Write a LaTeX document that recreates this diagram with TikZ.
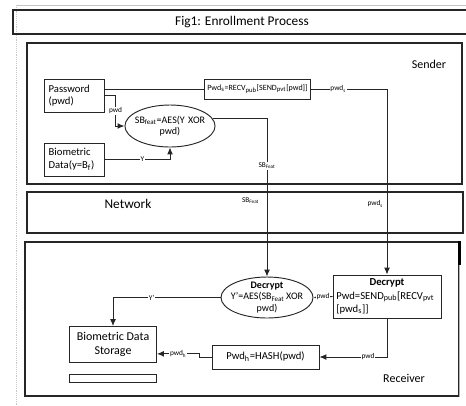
\documentclass[tikz,border=0pt]{standalone}
\usepackage{fontspec}
\setmainfont{Carlito}
\usetikzlibrary{
  arrows.meta,
  positioning,
  shapes.geometric
}
\tikzset{
  >={Latex[length=5.2pt,width=4.4pt]},
  % styles
  frame/.style={
    draw=black!85,
    line width=0.8pt,
    inner sep=0pt,
  },
  heading/.style={
    font=\fontsize{9}{11}\selectfont,
  },
  box/.style={
    draw=black!85,
    line width=0.7pt,
    inner sep=2pt,
  },
  oval/.style={
    ellipse,
    draw=black!85,
    line width=0.7pt,
    inner sep=0pt,
    align=center,
  },
  link/.style={
    draw=black!85,
    line width=0.7pt,
  },
  tag/.style={
    fill=white,
    inner sep=0.6pt,
    font=\fontsize{5.5}{6}\selectfont,
  },
  bare tag/.style={
    inner sep=0.6pt,
    font=\fontsize{5.5}{6}\selectfont,
  }
}

\begin{document}
\begin{tikzpicture}[x=0.75pt,y=-0.75pt]
  \useasboundingbox (0,0) rectangle (466,405);

  % page edge
  \draw [gray!45,densely dotted] (16,405) -- (16,5);
  \draw [gray!45] (16,5) -- (466,5);

  % frames
  \node [frame,minimum width=343.5pt,minimum height=18pt,
         font=\fontsize{10}{12}\selectfont] (title) at (242,22)
    {Fig1: Enrollment Process};
  \node [frame,minimum width=326.25pt,minimum height=105.75pt] (sender)   at (244.5,113.5) {};
  \node [frame,minimum width=327pt,minimum height=30.75pt]     (network)  at (245,212.5)   {};
  \node [frame,minimum width=325.5pt,minimum height=115.5pt]   (receiver) at (242,319)     {};
  \draw [gray!60,line width=1pt] (receiver.north east) -- (receiver.south east);
  \draw [line width=1.6pt] (receiver.north east) -- ++(0,24);

  \node [heading] (sendername)   at (429,64)  {Sender};
  \node [heading,font=\fontsize{10}{12}\selectfont] (networkname) at (128,204) {Network};
  \node [heading] (receivername) at (404,378) {Receiver};

  % sender side
  \node [box,align=left,text width=38pt,inner xsep=3.5pt,minimum height=24.75pt,
         font=\fontsize{8}{9.5}\selectfont] (pwd) at (74,95.5)
    {Password\\(pwd)};
  \node [box,align=left,text width=38pt,inner xsep=3.5pt,minimum height=24.75pt,
         font=\fontsize{8}{9.5}\selectfont] (bio) at (74,159.5)
    {Biometric\\Data(y=B\textsubscript{f})};
  \node [oval,text width=57pt,inner xsep=-4.6pt,minimum height=31.5pt,
         font=\fontsize{7.5}{8.6}\selectfont] (encS) at (170,126)
    {SB\textsubscript{feat}=AES(Y XOR\\pwd)};
  \node [box,minimum width=78.75pt,minimum height=15pt,
         font=\fontsize{6}{7}\selectfont] (pwdS) at (257.5,89)
    {Pwd\textsubscript{s}=RECV\textsubscript{pub}[SEND\textsubscript{pvt}[pwd]]};

  % receiver side
  \node [oval,text width=62pt,inner xsep=-6.6pt,inner ysep=-1.5pt,minimum height=30.75pt,
         font=\fontsize{7.5}{8.5}\selectfont] (decE) at (267,297.5)
    {\textbf{Decrypt}\\Y'=AES(SB\textsubscript{Feat}\,XOR\\pwd)};
  \node [box,align=left,text width=76pt,inner xsep=2.5pt,minimum height=32.25pt,
         font=\fontsize{8}{10}\selectfont] (decB) at (387,296.5)
    {\makebox[\linewidth]{\textbf{Decrypt}}\\
     Pwd=SEND\textsubscript{pub}[RECV\textsubscript{pvt}\\
     {[}pwd\textsubscript{s}{]]}};
  \node [box,minimum width=80.25pt,minimum height=18pt,
         font=\fontsize{8}{10}\selectfont] (hash) at (265.5,357)
    {Pwd\textsubscript{h}=HASH(pwd)};
  \node [box,align=center,minimum width=65.25pt,minimum height=27pt,
         font=\fontsize{9}{11}\selectfont] (store) at (113,344.5)
    {Biometric Data\\Storage};
  \node [box,inner sep=0pt,minimum width=65.25pt,minimum height=6pt,
         below=8pt of store] (spare) {};

  % connectors
  \draw [link] (pwd.east |- pwdS.west) -- (pwdS.west);
  \draw [link,->] (pwd.east) -- ++(11,0)
    |- node [tag,pos=0.25] {pwd} (encS.west);
  \draw [link,->] (bio.east)
    -| node [tag,pos=0.29] {Y} (encS.south);
  \draw [link,->] (encS.10)
    -| node [tag,pos=0.65] {SB\textsubscript{Feat}}
       node [bare tag,pos=0.76,left=5pt] {SB\textsubscript{Feat}} (decE.north);
  \draw [link,->] (pwdS.east)
    -| node [tag,pos=0.18] {pwd\textsubscript{s}}
       node [bare tag,pos=0.81,left=2pt] {pwd\textsubscript{s}} (decB.north);
  \draw [link,->] (decB.west) -- node [tag] {pwd} (decE.east);
  \draw [link,->] (decE.west)
    -| node [tag,pos=0.32] {Y'} (store.north);
  \draw [link,->] (decB.south)
    |- node [tag,pos=0.64] {pwd} (hash.east);
  \draw [link,->] (hash.west) -- ++(-12,0)
    |- node [tag,pos=0.75] {pwd\textsubscript{h}} ([yshift=-7pt]store.east);
\end{tikzpicture}
\end{document}
